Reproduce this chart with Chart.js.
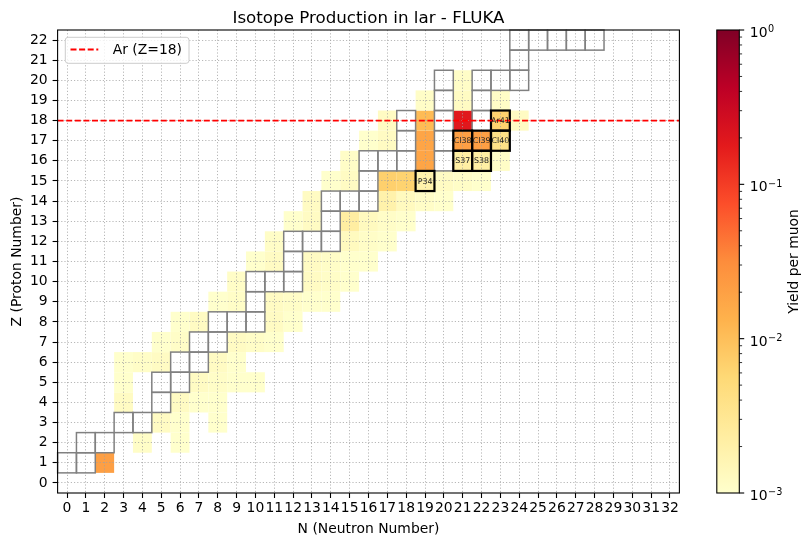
<!DOCTYPE html>
<html>
<head>
<meta charset="utf-8">
<script src="https://cdn.jsdelivr.net/npm/chart.js@4.4.1/dist/chart.umd.min.js"></script>
<style>
  html, body { margin: 0; padding: 0; background: #fff; }
  #wrap { width: 812px; height: 546px; }
</style>
</head>
<body>
<div id="wrap"><canvas id="isoChart" width="812" height="546"></canvas></div>
<script>
// yield per muon for each produced isotope (Z = protons, N = neutrons)
const cellZ = [
  1,
  2, 2,
  3, 3, 3,
  4, 4, 4, 4,
  5, 5, 5, 5, 5,
  6, 6, 6, 6, 6,
  7, 7, 7, 7, 7,
  8, 8, 8, 8,
  9, 9, 9, 9, 9, 9,
  10, 10, 10, 10,
  11, 11, 11, 11, 11, 11,
  12, 12, 12, 12,
  13, 13, 13, 13, 13, 13,
  14, 14, 14, 14, 14,
  15, 15, 15, 15, 15, 15, 15, 15,
  16, 16, 16, 16, 16,
  17, 17, 17, 17, 17, 17,
  18, 18, 18, 18, 18,
  19, 19, 19,
  20
];
const cellN = [
  2,
  4, 6,
  5, 6, 8,
  3, 6, 7, 8,
  3, 7, 8, 9, 10,
  3, 4, 5, 8, 9,
  5, 6, 9, 10, 11,
  6, 7, 11, 12,
  8, 9, 11, 12, 13, 14,
  9, 13, 14, 15,
  10, 11, 13, 14, 15, 16,
  11, 15, 16, 17,
  12, 13, 15, 16, 17, 18,
  13, 17, 18, 19, 20,
  14, 15, 17, 18, 19, 20, 21, 22,
  15, 19, 21, 22, 23,
  16, 17, 19, 21, 22, 23,
  17, 19, 21, 23, 24,
  19, 21, 23,
  21
];
const cellYield = [
  0.021,
  1.1e-3, 1.0e-3,
  1.2e-3, 1.0e-3, 1.0e-3,
  1.2e-3, 1.2e-3, 1.0e-3, 1.0e-3,
  1.0e-3, 1.2e-3, 1.1e-3, 1.0e-3, 1.0e-3,
  1.0e-3, 1.1e-3, 1.2e-3, 1.2e-3, 1.0e-3,
  1.0e-3, 1.1e-3, 1.2e-3, 1.1e-3, 1.0e-3,
  1.0e-3, 1.2e-3, 1.2e-3, 1.0e-3,
  1.0e-3, 1.1e-3, 1.2e-3, 1.1e-3, 1.0e-3, 1.0e-3,
  1.1e-3, 1.2e-3, 1.1e-3, 1.0e-3,
  1.0e-3, 1.2e-3, 1.2e-3, 1.1e-3, 1.0e-3, 1.0e-3,
  1.1e-3, 1.3e-3, 1.1e-3, 1.0e-3,
  1.0e-3, 1.2e-3, 2.3e-3, 1.3e-3, 1.1e-3, 1.0e-3,
  1.2e-3, 1.9e-3, 1.3e-3, 1.1e-3, 1.0e-3,
  1.0e-3, 1.2e-3, 6.8e-3, 6.4e-3, 1.9e-3, 1.2e-3, 1.1e-3, 1.0e-3,
  1.1e-3, 0.018, 2.2e-3, 2.2e-3, 1.1e-3,
  1.0e-3, 1.2e-3, 0.018, 0.021, 0.021, 4.0e-3,
  1.2e-3, 0.011, 0.19, 6.5e-3, 1.2e-3,
  1.1e-3, 1.2e-3, 1.1e-3,
  1.1e-3
];

// stable isotopes (grey outlines)
const stableZ = [1, 1, 2, 2, 3, 3, 4, 5, 5, 6, 6, 7, 7, 8, 8, 8, 9, 10, 10, 10, 11, 12, 12, 12, 13,
  14, 14, 14, 15, 16, 16, 16, 16, 17, 17, 18, 18, 18, 19, 19, 20, 20, 20, 20, 21, 22, 22, 22, 22, 22];
const stableN = [0, 1, 1, 2, 3, 4, 5, 5, 6, 6, 7, 7, 8, 8, 9, 10, 10, 10, 11, 12, 12, 12, 13, 14, 14,
  14, 15, 16, 16, 16, 17, 18, 20, 18, 20, 18, 20, 22, 20, 22, 20, 22, 23, 24, 24, 24, 25, 26, 27, 28];

// highlighted isotopes (black outlines + label)
const markNames = ['Ar41', 'Cl38', 'Cl39', 'Cl40', 'S37', 'S38', 'P34'];
const markZ = [18, 17, 17, 17, 16, 16, 15];
const markN = [23, 21, 22, 23, 21, 22, 19];

const xTicks = [0, 1, 2, 3, 4, 5, 6, 7, 8, 9, 10, 11, 12, 13, 14, 15, 16, 17, 18, 19, 20,
  21, 22, 23, 24, 25, 26, 27, 28, 29, 30, 31, 32];
const yTicks = [0, 1, 2, 3, 4, 5, 6, 7, 8, 9, 10, 11, 12, 13, 14, 15, 16, 17, 18, 19, 20, 21, 22];
const cbTicks = [1e-3, 1e-2, 1e-1, 1];
const cbTickExp = ['\u22123', '\u22122', '\u22121', '0'];
const argonZ = 18;

const FONT = "'DejaVu Sans', sans-serif";
const YLORRD = ['#ffffcc', '#ffeda0', '#fed976', '#feb24c', '#fd8d3c', '#fc4e2a', '#e31a1c', '#bd0026', '#800026'];
const VMIN = 1e-3, VMAX = 1;

function hexRgb(h) {
    return [parseInt(h.slice(1, 3), 16), parseInt(h.slice(3, 5), 16), parseInt(h.slice(5, 7), 16)];
}
function cmap(v) {
    let t = (Math.log10(v) - Math.log10(VMIN)) / (Math.log10(VMAX) - Math.log10(VMIN));
    t = Math.max(0, Math.min(1, t));
    const pos = t * (YLORRD.length - 1);
    const i = Math.min(Math.floor(pos), YLORRD.length - 2);
    const f = pos - i;
    const a = hexRgb(YLORRD[i]), b = hexRgb(YLORRD[i + 1]);
    const c = a.map((x, k) => Math.round(x + (b[k] - x) * f));
    return 'rgb(' + c.join(',') + ')';
}

function cellBox(chart, n, z) {
    const xs = chart.scales.x, ys = chart.scales.y;
    const x0 = xs.getPixelForValue(n - 0.5), x1 = xs.getPixelForValue(n + 0.5);
    const y0 = ys.getPixelForValue(z + 0.5), y1 = ys.getPixelForValue(z - 0.5);
    return { x: x0, y: y0, w: x1 - x0, h: y1 - y0 };
}

const isoPlugin = {
    id: 'isoPlugin',
    beforeDraw(chart) {
        const ctx = chart.ctx;
        ctx.save();
        chart.data.datasets[0].data.forEach(p => {
            const b = cellBox(chart, p.x, p.y);
            ctx.fillStyle = cmap(p.v);
            ctx.fillRect(b.x, b.y, b.w, b.h);
        });
        ctx.restore();
    },
    beforeDatasetsDraw(chart) {
        const ctx = chart.ctx;
        ctx.save();
        ctx.strokeStyle = '#808080';
        ctx.lineWidth = 1.5;
        stableN.forEach((n, i) => {
            const b = cellBox(chart, n, stableZ[i]);
            ctx.strokeRect(b.x, b.y, b.w, b.h);
        });
        ctx.strokeStyle = '#000';
        ctx.lineWidth = 2.2;
        markN.forEach((n, i) => {
            const b = cellBox(chart, n, markZ[i]);
            ctx.strokeRect(b.x, b.y, b.w, b.h);
        });
        ctx.restore();
    },
    afterDatasetsDraw(chart) {
        const ctx = chart.ctx;
        ctx.save();
        ctx.fillStyle = '#1a1a1a';
        ctx.font = '7.9px ' + FONT;
        ctx.textAlign = 'center';
        ctx.textBaseline = 'middle';
        markN.forEach((n, i) => {
            const b = cellBox(chart, n, markZ[i]);
            ctx.fillText(markNames[i], b.x + b.w / 2, b.y + b.h / 2 + 0.5);
        });
        ctx.restore();
    },
    afterDraw(chart) {
        const ctx = chart.ctx;
        const a = chart.chartArea;
        ctx.save();

        // frame
        ctx.strokeStyle = '#000';
        ctx.lineWidth = 1.1;
        ctx.strokeRect(a.left, a.top, a.right - a.left, a.bottom - a.top);

        // texts
        ctx.fillStyle = '#000';
        ctx.textAlign = 'center';
        ctx.textBaseline = 'alphabetic';
        ctx.font = '16.7px ' + FONT;
        ctx.fillText('Isotope Production in lar - FLUKA', (a.left + a.right) / 2, 22.5);
        ctx.font = '13.9px ' + FONT;
        ctx.fillText('N (Neutron Number)', (a.left + a.right) / 2, 533);
        ctx.save();
        ctx.translate(21, (a.top + a.bottom) / 2);
        ctx.rotate(-Math.PI / 2);
        ctx.fillText('Z (Proton Number)', 0, 0);
        ctx.restore();

        // legend
        const ds = chart.data.datasets[1];
        const lx = 65.3, ly = 37.3, lw = 123.7, lh = 26;
        ctx.beginPath();
        ctx.roundRect(lx, ly, lw, lh, 2.8);
        ctx.fillStyle = 'rgba(255,255,255,0.8)';
        ctx.fill();
        ctx.strokeStyle = '#cccccc';
        ctx.lineWidth = 1;
        ctx.stroke();
        ctx.beginPath();
        ctx.setLineDash(ds.borderDash);
        ctx.strokeStyle = ds.borderColor;
        ctx.lineWidth = ds.borderWidth;
        ctx.moveTo(70.5, 49.5);
        ctx.lineTo(98.3, 49.5);
        ctx.stroke();
        ctx.setLineDash([]);
        ctx.fillStyle = '#000';
        ctx.textAlign = 'left';
        ctx.fillText(ds.label, 112.7, 53.8);

        // colorbar
        const cb = chart.scales.cb;
        const cx0 = 716.8, cx1 = 739.3;
        const yTop = cb.getPixelForValue(VMAX), yBot = cb.getPixelForValue(VMIN);
        const g = ctx.createLinearGradient(0, yBot, 0, yTop);
        YLORRD.forEach((c, i) => g.addColorStop(i / (YLORRD.length - 1), c));
        ctx.fillStyle = g;
        ctx.fillRect(cx0, yTop, cx1 - cx0, yBot - yTop);
        ctx.strokeStyle = '#000';
        ctx.lineWidth = 1.1;
        ctx.strokeRect(cx0, yTop, cx1 - cx0, yBot - yTop);

        ctx.lineWidth = 0.8;
        for (let d = 0; d < cbTicks.length - 1; d++) {
            for (let m = 2; m <= 9; m++) {
                const yy = cb.getPixelForValue(cbTicks[d] * m);
                ctx.beginPath();
                ctx.moveTo(cx1, yy);
                ctx.lineTo(cx1 + 2.8, yy);
                ctx.stroke();
            }
        }
        ctx.lineWidth = 1.1;
        cbTicks.forEach((v, i) => {
            const yy = cb.getPixelForValue(v);
            ctx.beginPath();
            ctx.moveTo(cx1, yy);
            ctx.lineTo(cx1 + 4.9, yy);
            ctx.stroke();
            ctx.fillStyle = '#000';
            ctx.textAlign = 'left';
            ctx.font = '13.9px ' + FONT;
            ctx.fillText('10', 749.8, yy + 7);
            const w = ctx.measureText('10').width;
            ctx.font = '9.7px ' + FONT;
            ctx.fillText(cbTickExp[i], 749.8 + w + 0.6, yy + 2.3);
        });
        ctx.font = '13.9px ' + FONT;
        ctx.textAlign = 'center';
        ctx.save();
        ctx.translate(798, (yTop + yBot) / 2);
        ctx.rotate(-Math.PI / 2);
        ctx.fillText('Yield per muon', 0, 0);
        ctx.restore();

        ctx.restore();
    }
};

const tickFont = { family: FONT, size: 13.9 };
const gridOpts = {
    color: 'rgba(160,160,160,0.75)',
    lineWidth: 1,
    tickColor: '#000',
    tickLength: 5,
    tickWidth: 1.1
};

const canvas = document.getElementById('isoChart');
const ctx = canvas.getContext('2d');
window.isoChartInstance = new Chart(ctx, {
    type: 'scatter',
    data: {
        datasets: [{
            label: 'yield',
            data: cellN.map((n, i) => ({ x: n, y: cellZ[i], v: cellYield[i] })),
            pointRadius: 0,
            pointHoverRadius: 0
        }, {
            type: 'line',
            label: 'Ar (Z=18)',
            data: [{ x: -0.5, y: argonZ }, { x: 32.5, y: argonZ }],
            borderColor: '#ff0000',
            borderWidth: 1.8,
            borderDash: [6, 2.6],
            pointRadius: 0,
            fill: false
        }]
    },
    options: {
        responsive: false,
        animation: false,
        devicePixelRatio: 1,
        layout: { padding: { left: 0, right: 132.6, top: 30, bottom: 0 } },
        scales: {
            x: {
                type: 'linear',
                min: -0.5,
                max: 32.5,
                afterBuildTicks: s => { s.ticks = xTicks.map(v => ({ value: v })); },
                afterFit: s => { s.height = 53; },
                ticks: { autoSkip: false, maxRotation: 0, minRotation: 0, color: '#000', font: tickFont, padding: 2 },
                grid: gridOpts,
                border: { display: false, dash: [1.2, 2] }
            },
            y: {
                type: 'linear',
                min: -0.5,
                max: 22.5,
                afterBuildTicks: s => { s.ticks = yTicks.map(v => ({ value: v })); },
                afterFit: s => { s.width = 57.6; },
                ticks: { autoSkip: false, color: '#000', font: tickFont, padding: 4.9 },
                grid: gridOpts,
                border: { display: false, dash: [1.2, 2] }
            },
            cb: {
                type: 'logarithmic',
                position: 'right',
                min: VMIN,
                max: VMAX,
                display: false
            }
        },
        plugins: {
            legend: { display: false },
            title: { display: false },
            tooltip: { enabled: false }
        }
    },
    plugins: [isoPlugin]
});
</script>
</body>
</html>
